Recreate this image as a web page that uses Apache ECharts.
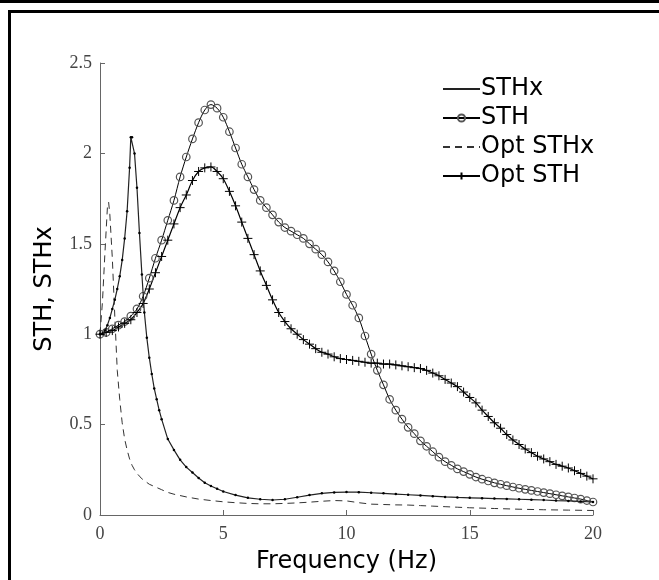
<!DOCTYPE html>
<html>
<head>
<meta charset="utf-8">
<script src="https://cdn.jsdelivr.net/npm/echarts@6/dist/echarts.min.js"></script>
<style>
  html, body { margin: 0; padding: 0; background: #fff; }
  .sth { width: 659px; height: 580px; }
</style>
</head>
<body>
<div class="sth"></div>
<script>
  // frequency grid for STH / Opt STH (Hz)
  var gridFreq = [0, 0.25, 0.5, 0.75, 1, 1.25, 1.5, 1.75, 2, 2.25, 2.5, 2.75, 3, 3.25, 3.5, 3.75,
    4, 4.25, 4.5, 4.75, 5, 5.25, 5.5, 5.75, 6, 6.25, 6.5, 6.75, 7, 7.25, 7.5, 7.75,
    8, 8.25, 8.5, 8.75, 9, 9.25, 9.5, 9.75, 10, 10.25, 10.5, 10.75, 11, 11.25, 11.5, 11.75,
    12, 12.25, 12.5, 12.75, 13, 13.25, 13.5, 13.75, 14, 14.25, 14.5, 14.75, 15, 15.25, 15.5, 15.75,
    16, 16.25, 16.5, 16.75, 17, 17.25, 17.5, 17.75, 18, 18.25, 18.5, 18.75, 19, 19.25, 19.5, 19.75, 20];

  var sthValues = [1.00, 1.01, 1.03, 1.05, 1.07, 1.10, 1.14, 1.21, 1.31, 1.42, 1.52, 1.63, 1.74, 1.87, 1.98, 2.08,
    2.17, 2.24, 2.27, 2.25, 2.20, 2.12, 2.03, 1.94, 1.87, 1.80, 1.74, 1.70, 1.66, 1.62, 1.59, 1.57,
    1.55, 1.53, 1.50, 1.47, 1.44, 1.40, 1.35, 1.29, 1.22, 1.16, 1.09, 0.99, 0.89, 0.80, 0.72, 0.64,
    0.58, 0.53, 0.485, 0.45, 0.41, 0.38, 0.35, 0.32, 0.295, 0.275, 0.255, 0.24, 0.225, 0.21, 0.198, 0.188,
    0.178, 0.17, 0.162, 0.155, 0.148, 0.142, 0.136, 0.13, 0.124, 0.118, 0.112, 0.106, 0.10, 0.094, 0.088, 0.08, 0.072];

  var optSthValues = [1.00, 1.01, 1.02, 1.04, 1.06, 1.08, 1.12, 1.17, 1.25, 1.34, 1.43, 1.52, 1.61, 1.70, 1.77, 1.85,
    1.90, 1.92, 1.925, 1.90, 1.86, 1.79, 1.71, 1.62, 1.53, 1.44, 1.35, 1.27, 1.19, 1.12, 1.07, 1.03,
    1.00, 0.97, 0.945, 0.92, 0.90, 0.89, 0.875, 0.865, 0.86, 0.855, 0.85, 0.845, 0.84, 0.84, 0.835, 0.835,
    0.83, 0.825, 0.82, 0.815, 0.81, 0.80, 0.785, 0.77, 0.75, 0.73, 0.71, 0.68, 0.65, 0.62, 0.58, 0.545,
    0.51, 0.48, 0.445, 0.415, 0.39, 0.365, 0.345, 0.325, 0.31, 0.295, 0.28, 0.27, 0.26, 0.245, 0.23, 0.215, 0.20];

  var sthxFreq = [0, 0.1, 0.2, 0.3, 0.4, 0.5, 0.6, 0.7, 0.8, 0.9, 1.0, 1.1, 1.2, 1.25, 1.3, 1.4, 1.5, 1.6, 1.7, 1.8, 1.9,
    2.0, 2.1, 2.2, 2.3, 2.4, 2.5, 2.75, 3, 3.25, 3.5, 3.75, 4, 4.25, 4.5, 4.75, 5, 5.5, 6, 6.5, 7, 7.5,
    8, 8.5, 9, 9.5, 10, 10.5, 11, 11.5, 12, 12.5, 13, 13.5, 14, 14.5, 15, 15.5, 16, 16.5, 17, 17.5,
    18, 18.5, 19, 19.5, 20];
  var sthxValues = [1.00, 1.00, 1.02, 1.05, 1.09, 1.14, 1.19, 1.25, 1.32, 1.41, 1.53, 1.68, 1.92, 2.09, 2.09, 2.00, 1.81, 1.56, 1.33, 1.12, 0.98,
    0.87, 0.78, 0.70, 0.64, 0.58, 0.53, 0.42, 0.36, 0.305, 0.265, 0.235, 0.205, 0.178, 0.16, 0.145, 0.13, 0.11, 0.095, 0.087, 0.083, 0.087,
    0.098, 0.11, 0.12, 0.125, 0.127, 0.126, 0.123, 0.12, 0.116, 0.112, 0.108, 0.104, 0.10, 0.097, 0.095, 0.093, 0.091, 0.089, 0.087, 0.085,
    0.083, 0.08, 0.078, 0.075, 0.072];

  var optSthxFreq = [0, 0.1, 0.2, 0.3, 0.35, 0.4, 0.5, 0.6, 0.7, 0.8, 0.9, 1.0, 1.1, 1.2, 1.3, 1.4, 1.5, 1.6, 1.7, 1.8, 1.9,
    2.0, 2.5, 2.75, 3, 3.5, 4, 4.5, 5, 5.5, 6, 6.5, 7, 7.5, 8, 8.5, 9, 9.5, 10, 10.5, 11, 11.5,
    12, 12.5, 13, 13.5, 14, 14.5, 15, 16, 17, 18, 19, 20];
  var optSthxValues = [1.00, 1.18, 1.45, 1.70, 1.73, 1.66, 1.42, 1.10, 0.80, 0.64, 0.51, 0.42, 0.36, 0.31, 0.275, 0.25, 0.23, 0.215, 0.20, 0.19, 0.18,
    0.17, 0.14, 0.125, 0.115, 0.10, 0.088, 0.08, 0.073, 0.068, 0.064, 0.062, 0.062, 0.064, 0.067, 0.071, 0.076, 0.08, 0.078, 0.068, 0.06, 0.058,
    0.056, 0.055, 0.052, 0.049, 0.046, 0.043, 0.04, 0.036, 0.032, 0.029, 0.027, 0.025];

  var yTicks = [0, 0.5, 1, 1.5, 2, 2.5];
  var xTicks = [0, 5, 10, 15, 20];

  function pairs(xs, ys) {
    var res = [];
    for (var i = 0; i < xs.length; i++) {
      res.push([xs[i], ys[i]]);
    }
    return res;
  }

  var myChart = echarts.init(document.querySelector(".sth"));
  var axisGray = '#666';
  var labelFont = { color: '#444', fontFamily: 'Liberation Serif', fontSize: 18 };
  var plusPath = 'path://M0,5L10,5M5,0L5,10';

  var option = {
    animation: false,
    backgroundColor: '#fff',
    graphic: [
      { type: 'rect', shape: { x: 0, y: 0, width: 659, height: 3 }, style: { fill: '#000' } },
      { type: 'rect', shape: { x: 8, y: 10, width: 651, height: 3 }, style: { fill: '#000' } },
      { type: 'rect', shape: { x: 8, y: 10, width: 3, height: 570 }, style: { fill: '#000' } }
    ],
    grid: { left: 100, right: 66, top: 63, bottom: 65 },
    legend: {
      orient: 'vertical',
      left: 437,
      top: 72,
      itemWidth: 37,
      itemHeight: 9,
      itemGap: 5,
      textStyle: { fontFamily: 'DejaVu Sans', fontSize: 24, color: '#000', padding: [0, 0, 0, -4] },
      data: [
        { name: 'STHx', itemStyle: { opacity: 0 } },
        { name: 'STH' },
        { name: 'Opt STHx', itemStyle: { opacity: 0 } },
        { name: 'Opt STH' }
      ]
    },
    xAxis: {
      type: 'value',
      min: 0, max: 20, interval: 5,
      name: 'Frequency (Hz)',
      nameLocation: 'middle',
      nameGap: 35,
      nameTextStyle: { fontFamily: 'DejaVu Sans', fontSize: 24, color: '#000' },
      axisLine: { lineStyle: { color: axisGray, width: 1 } },
      axisTick: { inside: true, length: 5, lineStyle: { color: axisGray } },
      axisLabel: Object.assign({ margin: 10, formatter: function(v) { return xTicks.indexOf(v) >= 0 ? String(v) : ''; } }, labelFont),
      splitLine: { show: false }
    },
    yAxis: {
      type: 'value',
      min: 0, max: 2.5, interval: 0.5,
      name: 'STH, STHx',
      nameLocation: 'middle',
      nameGap: 43,
      nameTextStyle: { fontFamily: 'DejaVu Sans', fontSize: 24, color: '#000' },
      axisLine: { show: true, lineStyle: { color: axisGray, width: 1 } },
      axisTick: { show: true, inside: true, length: 5, lineStyle: { color: axisGray } },
      axisLabel: Object.assign({ margin: 8, formatter: function(v) { return yTicks.indexOf(v) >= 0 ? String(v) : ''; } }, labelFont),
      splitLine: { show: false }
    },
    series: [
      {
        name: 'STHx',
        type: 'line',
        data: pairs(sthxFreq, sthxValues),
        symbol: 'circle',
        symbolSize: 2.5,
        showAllSymbol: true,
        itemStyle: { color: '#000' },
        lineStyle: { color: '#222', width: 1.2 },
        z: 4
      },
      {
        name: 'STH',
        type: 'line',
        data: pairs(gridFreq, sthValues),
        smooth: 0.3,
        symbol: 'circle',
        symbolSize: 7.5,
        showAllSymbol: true,
        itemStyle: { color: 'rgba(0,0,0,0)', borderColor: '#555', borderWidth: 1.2 },
        lineStyle: { color: '#000', width: 1 },
        z: 3
      },
      {
        name: 'Opt STHx',
        type: 'line',
        data: pairs(optSthxFreq, optSthxValues),
        symbol: 'none',
        itemStyle: { color: '#333' },
        lineStyle: { color: '#333', width: 1, type: [7, 5] },
        z: 2
      },
      {
        name: 'Opt STH',
        type: 'line',
        data: pairs(gridFreq, optSthValues),
        smooth: 0.3,
        symbol: plusPath,
        symbolSize: 9,
        showAllSymbol: true,
        itemStyle: { color: 'rgba(0,0,0,0)', borderColor: '#000', borderWidth: 1 },
        lineStyle: { color: '#000', width: 1.2 },
        z: 3
      }
    ]
  };
  myChart.setOption(option);
  window.addEventListener("resize", function() {
    myChart.resize();
  });
</script>
</body>
</html>
